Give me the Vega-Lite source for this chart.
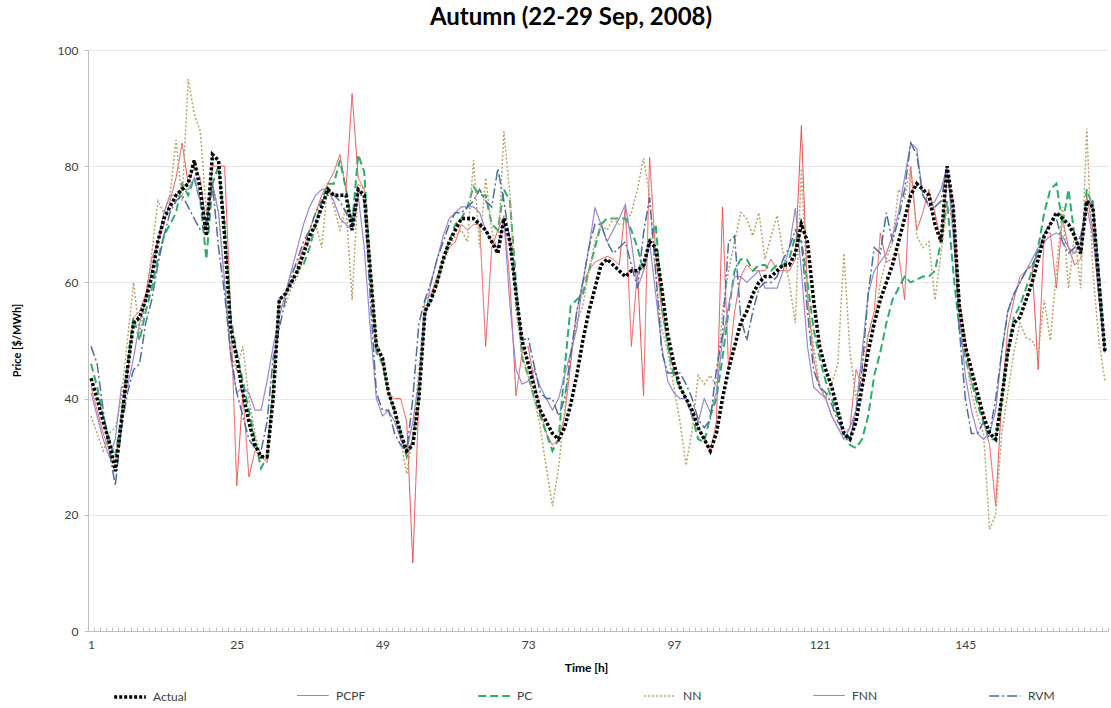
{
  "$schema": "https://vega.github.io/schema/vega-lite/v6.json",
  "width": 1020,
  "height": 581,
  "autosize": {"type": "none"},
  "padding": {"left": 88, "top": 50, "right": 3, "bottom": 77},
  "background": "white",
  "title": {"text": "Autumn (22-29 Sep, 2008)", "font": "Lato", "fontSize": 24, "fontWeight": "bold", "color": "#000000", "anchor": "middle", "dx": -27, "offset": 14},
  "data": {"values": [
    {"h":1,"Actual":43.5,"PCPF":42,"PC":46,"NN":37,"FNN":41,"RVM":49},
    {"h":2,"Actual":40,"PCPF":38,"PC":42,"NN":34,"FNN":37,"RVM":46},
    {"h":3,"Actual":36,"PCPF":34,"PC":37,"NN":31,"FNN":33,"RVM":38},
    {"h":4,"Actual":32.5,"PCPF":31,"PC":33,"NN":34,"FNN":30,"RVM":31},
    {"h":5,"Actual":27.5,"PCPF":29,"PC":30,"NN":35,"FNN":33,"RVM":25},
    {"h":6,"Actual":36,"PCPF":35,"PC":37,"NN":40,"FNN":42,"RVM":35},
    {"h":7,"Actual":45,"PCPF":44,"PC":46,"NN":50,"FNN":42,"RVM":41},
    {"h":8,"Actual":53,"PCPF":54,"PC":54,"NN":60,"FNN":47,"RVM":45},
    {"h":9,"Actual":54,"PCPF":55,"PC":50,"NN":51,"FNN":53,"RVM":46},
    {"h":10,"Actual":57,"PCPF":58,"PC":55,"NN":57,"FNN":57,"RVM":53},
    {"h":11,"Actual":61,"PCPF":64,"PC":59,"NN":65,"FNN":62,"RVM":57},
    {"h":12,"Actual":67,"PCPF":67,"PC":64,"NN":74,"FNN":67,"RVM":63},
    {"h":13,"Actual":71,"PCPF":70,"PC":68,"NN":72,"FNN":72,"RVM":68},
    {"h":14,"Actual":73,"PCPF":74,"PC":70,"NN":75,"FNN":75,"RVM":72},
    {"h":15,"Actual":75,"PCPF":78,"PC":72,"NN":84.5,"FNN":75,"RVM":74},
    {"h":16,"Actual":76,"PCPF":84,"PC":77,"NN":74,"FNN":76,"RVM":75},
    {"h":17,"Actual":77,"PCPF":77,"PC":75,"NN":95,"FNN":76,"RVM":73},
    {"h":18,"Actual":81,"PCPF":80,"PC":78,"NN":89,"FNN":78,"RVM":71},
    {"h":19,"Actual":76,"PCPF":78,"PC":74,"NN":86,"FNN":74,"RVM":69},
    {"h":20,"Actual":68,"PCPF":69,"PC":64,"NN":72,"FNN":70,"RVM":70},
    {"h":21,"Actual":82,"PCPF":80,"PC":77,"NN":77,"FNN":77,"RVM":77},
    {"h":22,"Actual":81,"PCPF":80,"PC":80,"NN":72,"FNN":72,"RVM":66},
    {"h":23,"Actual":68,"PCPF":80,"PC":70,"NN":60,"FNN":60,"RVM":58},
    {"h":24,"Actual":52,"PCPF":55,"PC":54,"NN":48,"FNN":47,"RVM":48},
    {"h":25,"Actual":47,"PCPF":25,"PC":48,"NN":45,"FNN":41,"RVM":41},
    {"h":26,"Actual":41,"PCPF":41,"PC":43,"NN":49,"FNN":42,"RVM":37},
    {"h":27,"Actual":36,"PCPF":26.5,"PC":38,"NN":40,"FNN":41,"RVM":33},
    {"h":28,"Actual":32,"PCPF":31,"PC":33,"NN":34,"FNN":38,"RVM":31.5},
    {"h":29,"Actual":30,"PCPF":30,"PC":28,"NN":30,"FNN":38,"RVM":31},
    {"h":30,"Actual":30,"PCPF":29,"PC":30,"NN":30,"FNN":43,"RVM":36},
    {"h":31,"Actual":40,"PCPF":42,"PC":42,"NN":42,"FNN":49,"RVM":47},
    {"h":32,"Actual":57,"PCPF":57,"PC":57,"NN":56,"FNN":54,"RVM":52},
    {"h":33,"Actual":58,"PCPF":58,"PC":58,"NN":56,"FNN":58,"RVM":57},
    {"h":34,"Actual":60,"PCPF":62,"PC":60,"NN":59,"FNN":62,"RVM":61},
    {"h":35,"Actual":62,"PCPF":63,"PC":62,"NN":61,"FNN":66,"RVM":64},
    {"h":36,"Actual":65,"PCPF":66,"PC":63,"NN":64,"FNN":70,"RVM":67},
    {"h":37,"Actual":68,"PCPF":69,"PC":66,"NN":68,"FNN":73,"RVM":69},
    {"h":38,"Actual":70,"PCPF":72,"PC":70,"NN":70,"FNN":75,"RVM":72},
    {"h":39,"Actual":73,"PCPF":75,"PC":74,"NN":66,"FNN":76,"RVM":74},
    {"h":40,"Actual":76,"PCPF":77,"PC":77,"NN":77,"FNN":76,"RVM":75},
    {"h":41,"Actual":75,"PCPF":79,"PC":77,"NN":73,"FNN":74,"RVM":75},
    {"h":42,"Actual":75,"PCPF":82,"PC":81,"NN":69,"FNN":71,"RVM":74},
    {"h":43,"Actual":75,"PCPF":76,"PC":76,"NN":73,"FNN":70,"RVM":72},
    {"h":44,"Actual":69,"PCPF":92.5,"PC":70,"NN":57,"FNN":69,"RVM":71},
    {"h":45,"Actual":76,"PCPF":78,"PC":82,"NN":77,"FNN":75,"RVM":76},
    {"h":46,"Actual":75,"PCPF":76,"PC":79,"NN":76,"FNN":66,"RVM":74},
    {"h":47,"Actual":62,"PCPF":62,"PC":62,"NN":63,"FNN":52,"RVM":57},
    {"h":48,"Actual":49,"PCPF":49,"PC":48,"NN":50,"FNN":40,"RVM":41},
    {"h":49,"Actual":47,"PCPF":46,"PC":46,"NN":47,"FNN":37,"RVM":38},
    {"h":50,"Actual":41,"PCPF":41,"PC":41,"NN":41,"FNN":38,"RVM":38},
    {"h":51,"Actual":38,"PCPF":40,"PC":38,"NN":37,"FNN":36,"RVM":34},
    {"h":52,"Actual":34,"PCPF":40,"PC":34,"NN":33,"FNN":33,"RVM":32},
    {"h":53,"Actual":31,"PCPF":36,"PC":30,"NN":27,"FNN":31,"RVM":31},
    {"h":54,"Actual":32,"PCPF":11.7,"PC":33,"NN":34,"FNN":36,"RVM":40},
    {"h":55,"Actual":40,"PCPF":40,"PC":41,"NN":45,"FNN":43,"RVM":53},
    {"h":56,"Actual":55,"PCPF":57,"PC":55,"NN":57,"FNN":54,"RVM":57},
    {"h":57,"Actual":57,"PCPF":58,"PC":57,"NN":58,"FNN":60,"RVM":60},
    {"h":58,"Actual":60,"PCPF":61,"PC":60,"NN":60,"FNN":64,"RVM":64},
    {"h":59,"Actual":64,"PCPF":64,"PC":64,"NN":63,"FNN":68,"RVM":67},
    {"h":60,"Actual":67,"PCPF":66,"PC":67,"NN":66,"FNN":71,"RVM":70},
    {"h":61,"Actual":69,"PCPF":67,"PC":70,"NN":68,"FNN":72,"RVM":72},
    {"h":62,"Actual":71,"PCPF":70,"PC":71,"NN":69,"FNN":73,"RVM":72},
    {"h":63,"Actual":71,"PCPF":69,"PC":73,"NN":67,"FNN":73,"RVM":73},
    {"h":64,"Actual":71,"PCPF":70,"PC":76.5,"NN":81,"FNN":73,"RVM":74},
    {"h":65,"Actual":70,"PCPF":70,"PC":75,"NN":66,"FNN":72,"RVM":76},
    {"h":66,"Actual":69,"PCPF":49,"PC":75,"NN":78,"FNN":69,"RVM":74},
    {"h":67,"Actual":67,"PCPF":66,"PC":70,"NN":69,"FNN":67,"RVM":73},
    {"h":68,"Actual":65,"PCPF":69,"PC":69,"NN":65,"FNN":66,"RVM":79.6},
    {"h":69,"Actual":71,"PCPF":71.5,"PC":76,"NN":86,"FNN":71,"RVM":74},
    {"h":70,"Actual":67,"PCPF":60,"PC":74,"NN":75,"FNN":56,"RVM":67},
    {"h":71,"Actual":58,"PCPF":40.5,"PC":60,"NN":55,"FNN":45,"RVM":58},
    {"h":72,"Actual":50,"PCPF":48,"PC":47,"NN":47.5,"FNN":42.5,"RVM":50},
    {"h":73,"Actual":46,"PCPF":49,"PC":44,"NN":44,"FNN":43,"RVM":50.5},
    {"h":74,"Actual":42,"PCPF":43,"PC":40,"NN":40,"FNN":45,"RVM":45.6},
    {"h":75,"Actual":38,"PCPF":38,"PC":37,"NN":35,"FNN":42,"RVM":41},
    {"h":76,"Actual":36,"PCPF":34,"PC":34,"NN":28,"FNN":40,"RVM":40},
    {"h":77,"Actual":34,"PCPF":32,"PC":31,"NN":21.5,"FNN":38,"RVM":40},
    {"h":78,"Actual":33,"PCPF":33,"PC":33,"NN":28,"FNN":40,"RVM":37},
    {"h":79,"Actual":35,"PCPF":37,"PC":45,"NN":38,"FNN":44,"RVM":40},
    {"h":80,"Actual":39,"PCPF":46,"PC":56,"NN":48,"FNN":48,"RVM":47.5},
    {"h":81,"Actual":44,"PCPF":55,"PC":57,"NN":53,"FNN":52,"RVM":55},
    {"h":82,"Actual":50,"PCPF":60,"PC":58,"NN":56,"FNN":60,"RVM":60},
    {"h":83,"Actual":55,"PCPF":62,"PC":62,"NN":62,"FNN":66,"RVM":66},
    {"h":84,"Actual":59,"PCPF":63.5,"PC":66,"NN":67,"FNN":72.8,"RVM":70},
    {"h":85,"Actual":63,"PCPF":64,"PC":70,"NN":70,"FNN":70,"RVM":70},
    {"h":86,"Actual":64,"PCPF":64.5,"PC":71,"NN":69,"FNN":67,"RVM":67},
    {"h":87,"Actual":63,"PCPF":64,"PC":71,"NN":71,"FNN":69,"RVM":65},
    {"h":88,"Actual":62,"PCPF":63,"PC":71,"NN":70,"FNN":71,"RVM":66},
    {"h":89,"Actual":61,"PCPF":73,"PC":71,"NN":70,"FNN":73.4,"RVM":67},
    {"h":90,"Actual":62,"PCPF":49,"PC":69,"NN":72,"FNN":67,"RVM":63},
    {"h":91,"Actual":62,"PCPF":62,"PC":66,"NN":76,"FNN":59,"RVM":59},
    {"h":92,"Actual":63,"PCPF":40.5,"PC":62,"NN":81.4,"FNN":62,"RVM":68.5},
    {"h":93,"Actual":67,"PCPF":81.5,"PC":67,"NN":75,"FNN":67,"RVM":74.6},
    {"h":94,"Actual":66,"PCPF":65,"PC":70,"NN":61,"FNN":58,"RVM":62},
    {"h":95,"Actual":59,"PCPF":55,"PC":57,"NN":52,"FNN":49,"RVM":48},
    {"h":96,"Actual":51,"PCPF":49,"PC":49,"NN":48,"FNN":43,"RVM":44.4},
    {"h":97,"Actual":46,"PCPF":45,"PC":44,"NN":42,"FNN":41,"RVM":44.4},
    {"h":98,"Actual":42,"PCPF":42,"PC":42,"NN":36,"FNN":40,"RVM":44.4},
    {"h":99,"Actual":40,"PCPF":40,"PC":40,"NN":28.5,"FNN":40,"RVM":42.5},
    {"h":100,"Actual":38,"PCPF":37,"PC":37,"NN":34.5,"FNN":37,"RVM":40},
    {"h":101,"Actual":35,"PCPF":35,"PC":33,"NN":44,"FNN":36,"RVM":36.4},
    {"h":102,"Actual":33,"PCPF":33,"PC":32.5,"NN":42.5,"FNN":40,"RVM":35},
    {"h":103,"Actual":31,"PCPF":31,"PC":37,"NN":44,"FNN":37.6,"RVM":36.4},
    {"h":104,"Actual":34,"PCPF":36,"PC":40,"NN":42,"FNN":41,"RVM":45},
    {"h":105,"Actual":40,"PCPF":73,"PC":47,"NN":55,"FNN":50,"RVM":51},
    {"h":106,"Actual":45,"PCPF":45,"PC":55,"NN":62,"FNN":56,"RVM":67},
    {"h":107,"Actual":49,"PCPF":55,"PC":62,"NN":67,"FNN":61,"RVM":68},
    {"h":108,"Actual":53,"PCPF":61,"PC":64,"NN":72,"FNN":61,"RVM":54},
    {"h":109,"Actual":55,"PCPF":63,"PC":64,"NN":71,"FNN":60,"RVM":50},
    {"h":110,"Actual":58,"PCPF":62,"PC":62,"NN":68,"FNN":61,"RVM":55},
    {"h":111,"Actual":60,"PCPF":62,"PC":63,"NN":72,"FNN":62,"RVM":59},
    {"h":112,"Actual":61,"PCPF":62,"PC":63,"NN":64,"FNN":59,"RVM":60},
    {"h":113,"Actual":61,"PCPF":64,"PC":62,"NN":68,"FNN":59,"RVM":60},
    {"h":114,"Actual":62,"PCPF":62,"PC":63,"NN":71.5,"FNN":59,"RVM":61},
    {"h":115,"Actual":63,"PCPF":62,"PC":63,"NN":65,"FNN":62,"RVM":64},
    {"h":116,"Actual":63,"PCPF":62,"PC":64,"NN":60,"FNN":66,"RVM":66},
    {"h":117,"Actual":65,"PCPF":64,"PC":68,"NN":53,"FNN":72.8,"RVM":69},
    {"h":118,"Actual":70,"PCPF":87,"PC":67,"NN":79.6,"FNN":62,"RVM":67},
    {"h":119,"Actual":67,"PCPF":58,"PC":60,"NN":57,"FNN":49,"RVM":55},
    {"h":120,"Actual":57,"PCPF":47,"PC":52,"NN":49,"FNN":42,"RVM":45},
    {"h":121,"Actual":49,"PCPF":42,"PC":47,"NN":42.5,"FNN":41,"RVM":42},
    {"h":122,"Actual":45,"PCPF":40,"PC":43,"NN":40,"FNN":40,"RVM":41},
    {"h":123,"Actual":42,"PCPF":37,"PC":40,"NN":42.5,"FNN":37,"RVM":39},
    {"h":124,"Actual":38,"PCPF":35,"PC":37,"NN":46,"FNN":35,"RVM":36},
    {"h":125,"Actual":34,"PCPF":34,"PC":34,"NN":65,"FNN":33,"RVM":34.5},
    {"h":126,"Actual":33,"PCPF":35,"PC":32,"NN":48,"FNN":35,"RVM":33},
    {"h":127,"Actual":36,"PCPF":45,"PC":31.5,"NN":40,"FNN":38,"RVM":38},
    {"h":128,"Actual":42,"PCPF":42,"PC":33,"NN":46,"FNN":48,"RVM":45},
    {"h":129,"Actual":48,"PCPF":51,"PC":37,"NN":51,"FNN":58,"RVM":58},
    {"h":130,"Actual":53,"PCPF":55,"PC":44,"NN":53,"FNN":62,"RVM":66},
    {"h":131,"Actual":57,"PCPF":68.5,"PC":48,"NN":60,"FNN":63.5,"RVM":65},
    {"h":132,"Actual":60,"PCPF":63.5,"PC":53,"NN":64,"FNN":65,"RVM":72},
    {"h":133,"Actual":63,"PCPF":64,"PC":57,"NN":67,"FNN":68,"RVM":67},
    {"h":134,"Actual":67,"PCPF":65,"PC":59,"NN":76,"FNN":72,"RVM":71},
    {"h":135,"Actual":71,"PCPF":57,"PC":61,"NN":74.6,"FNN":78,"RVM":76},
    {"h":136,"Actual":75,"PCPF":80,"PC":60,"NN":80,"FNN":84,"RVM":84},
    {"h":137,"Actual":77,"PCPF":69,"PC":60.5,"NN":68,"FNN":83,"RVM":82},
    {"h":138,"Actual":76,"PCPF":72,"PC":61,"NN":66,"FNN":75,"RVM":75},
    {"h":139,"Actual":75,"PCPF":76,"PC":61,"NN":67,"FNN":73,"RVM":73.4},
    {"h":140,"Actual":70,"PCPF":72,"PC":62,"NN":57,"FNN":74,"RVM":73},
    {"h":141,"Actual":67,"PCPF":67,"PC":67,"NN":65,"FNN":76,"RVM":74},
    {"h":142,"Actual":80,"PCPF":78,"PC":74,"NN":73,"FNN":80,"RVM":80},
    {"h":143,"Actual":73,"PCPF":74,"PC":62,"NN":71,"FNN":68,"RVM":71},
    {"h":144,"Actual":56,"PCPF":57,"PC":52,"NN":58,"FNN":55,"RVM":52},
    {"h":145,"Actual":49,"PCPF":50,"PC":47,"NN":48,"FNN":44,"RVM":40},
    {"h":146,"Actual":45,"PCPF":43,"PC":43,"NN":41,"FNN":38,"RVM":34},
    {"h":147,"Actual":41,"PCPF":40,"PC":39,"NN":37,"FNN":34,"RVM":34},
    {"h":148,"Actual":37,"PCPF":36,"PC":36,"NN":34,"FNN":33,"RVM":36},
    {"h":149,"Actual":34,"PCPF":32,"PC":33,"NN":17.5,"FNN":34,"RVM":34},
    {"h":150,"Actual":33,"PCPF":21.5,"PC":33,"NN":20,"FNN":38,"RVM":40},
    {"h":151,"Actual":40,"PCPF":40,"PC":40,"NN":34,"FNN":48,"RVM":48},
    {"h":152,"Actual":48,"PCPF":52,"PC":48,"NN":41,"FNN":55,"RVM":55},
    {"h":153,"Actual":53,"PCPF":57,"PC":54,"NN":48,"FNN":58,"RVM":58},
    {"h":154,"Actual":54,"PCPF":61,"PC":56,"NN":53,"FNN":60,"RVM":60},
    {"h":155,"Actual":57,"PCPF":62,"PC":59,"NN":50.5,"FNN":62,"RVM":62},
    {"h":156,"Actual":60,"PCPF":63,"PC":62,"NN":50,"FNN":64,"RVM":63},
    {"h":157,"Actual":64,"PCPF":45,"PC":66,"NN":48,"FNN":66,"RVM":65},
    {"h":158,"Actual":68,"PCPF":68.5,"PC":72,"NN":57,"FNN":67,"RVM":68.5},
    {"h":159,"Actual":70,"PCPF":68.5,"PC":76,"NN":50,"FNN":68,"RVM":70},
    {"h":160,"Actual":72,"PCPF":59,"PC":77,"NN":62,"FNN":68.5,"RVM":71},
    {"h":161,"Actual":71,"PCPF":71,"PC":70,"NN":73,"FNN":68,"RVM":67},
    {"h":162,"Actual":70,"PCPF":66,"PC":76,"NN":59,"FNN":66,"RVM":65},
    {"h":163,"Actual":68,"PCPF":63,"PC":68,"NN":68.5,"FNN":65,"RVM":66},
    {"h":164,"Actual":65,"PCPF":64,"PC":65,"NN":59,"FNN":67,"RVM":68},
    {"h":165,"Actual":74,"PCPF":75,"PC":76,"NN":86.5,"FNN":73,"RVM":73},
    {"h":166,"Actual":73,"PCPF":69,"PC":73,"NN":62,"FNN":68,"RVM":74},
    {"h":167,"Actual":60,"PCPF":57,"PC":62,"NN":50,"FNN":58,"RVM":58},
    {"h":168,"Actual":48,"PCPF":48,"PC":48,"NN":43,"FNN":48,"RVM":48}
  ]},
  "transform": [{"fold": ["Actual", "PCPF", "PC", "NN", "FNN", "RVM"], "as": ["series", "price"]}],
  "encoding": {
    "x": {"field": "h", "type": "quantitative",
      "scale": {"domain": [0.5, 168.5], "nice": false, "zero": false},
      "axis": {
        "values": [0.5,1.5,2.5,3.5,4.5,5.5,6.5,7.5,8.5,9.5,10.5,11.5,12.5,13.5,14.5,15.5,16.5,17.5,18.5,19.5,20.5,21.5,22.5,23.5,24.5,25.5,26.5,27.5,28.5,29.5,30.5,31.5,32.5,33.5,34.5,35.5,36.5,37.5,38.5,39.5,40.5,41.5,42.5,43.5,44.5,45.5,46.5,47.5,48.5,49.5,50.5,51.5,52.5,53.5,54.5,55.5,56.5,57.5,58.5,59.5,60.5,61.5,62.5,63.5,64.5,65.5,66.5,67.5,68.5,69.5,70.5,71.5,72.5,73.5,74.5,75.5,76.5,77.5,78.5,79.5,80.5,81.5,82.5,83.5,84.5,85.5,86.5,87.5,88.5,89.5,90.5,91.5,92.5,93.5,94.5,95.5,96.5,97.5,98.5,99.5,100.5,101.5,102.5,103.5,104.5,105.5,106.5,107.5,108.5,109.5,110.5,111.5,112.5,113.5,114.5,115.5,116.5,117.5,118.5,119.5,120.5,121.5,122.5,123.5,124.5,125.5,126.5,127.5,128.5,129.5,130.5,131.5,132.5,133.5,134.5,135.5,136.5,137.5,138.5,139.5,140.5,141.5,142.5,143.5,144.5,145.5,146.5,147.5,148.5,149.5,150.5,151.5,152.5,153.5,154.5,155.5,156.5,157.5,158.5,159.5,160.5,161.5,162.5,163.5,164.5,165.5,166.5,167.5,168.5],
        "labelExpr": "datum.value < 168 && (datum.value + 0.5) % 24 == 1 ? '' + (datum.value + 0.5) : ''",
        "labelOffset": 3, "labelOverlap": false, "labelFlush": false, "labelBound": false,
        "grid": false, "tickSize": -4, "tickColor": "#BFBFBF", "domainColor": "#BFBFBF",
        "labelColor": "#404040", "labelFontSize": 12, "labelFont": "Lato", "labelPadding": 12,
        "title": "Time [h]", "titleFont": "Lato", "titleFontSize": 12, "titleFontWeight": "bold", "titleColor": "#000000",
        "titleX": 498, "titleY": 36, "titleBaseline": "middle", "titleAlign": "center"
      }},
    "y": {"field": "price", "type": "quantitative",
      "scale": {"domain": [0, 100], "nice": false, "zero": true},
      "axis": {
        "values": [0, 20, 40, 60, 80, 100], "grid": true, "gridColor": "#E8E8E8", "gridWidth": 1,
        "tickSize": 4, "tickColor": "#BFBFBF", "domainColor": "#BFBFBF",
        "labelColor": "#404040", "labelFontSize": 12, "labelFont": "Lato", "labelPadding": 6,
        "title": "Price [$/MWh]", "titleFont": "Lato", "titleFontSize": 11, "titleFontWeight": "bold", "titleColor": "#000000",
        "titleX": -71, "titleY": 290, "titleAngle": -90, "titleAlign": "center", "titleBaseline": "middle"
      }},
    "color": {"field": "series", "type": "nominal",
      "scale": {"domain": ["Actual", "PCPF", "PC", "NN", "FNN", "RVM"],
                "range": ["#000000", "#E8504F", "#2EAD68", "#BBA46C", "#9C86D2", "#4F6E9E"]},
      "legend": {"title": null, "orient": "none", "legendX": 24, "legendY": 629, "direction": "horizontal", "columns": 6,
        "gridAlign": "none", "columnPadding": 108, "symbolType": "stroke", "symbolSize": 1000,
        "labelFontSize": 12, "labelFont": "Lato", "labelColor": "#404040", "labelOffset": 5, "padding": 0,
        "encode": {"symbols": {"update": {
          "stroke": {"scale": "color", "field": "value"},
          "strokeWidth": {"signal": "datum.value === 'Actual' ? 3.5 : (datum.value === 'PC' ? 2.5 : 2)"},
          "strokeDash": {"signal": "datum.value === 'Actual' ? [3,2] : (datum.value === 'PC' ? [8,4] : (datum.value === 'NN' ? [2,2] : (datum.value === 'RVM' ? [10,3,2,3] : [1,0])))"}
        }}}}},
    "strokeDash": {"field": "series", "type": "nominal",
      "scale": {"domain": ["Actual", "PCPF", "PC", "NN", "FNN", "RVM"],
                "range": [[3, 2], [1, 0], [8, 4], [2, 2], [1, 0], [10, 3, 2, 3]]},
      "legend": null},
    "strokeWidth": {"field": "series", "type": "nominal",
      "scale": {"type": "ordinal", "domain": ["Actual", "PCPF", "PC", "NN", "FNN", "RVM"],
                "range": [3.5, 1, 2, 1.5, 1.2, 1.5]},
      "legend": null}
  },
  "layer": [
    {"transform": [{"filter": "datum.series != 'Actual'"}], "mark": {"type": "line", "interpolate": "linear"}},
    {"transform": [{"filter": "datum.series == 'Actual'"}], "mark": {"type": "line", "interpolate": "linear"}}
  ],
  "config": {
    "font": "Lato",
    "view": {"stroke": null}
  }
}
